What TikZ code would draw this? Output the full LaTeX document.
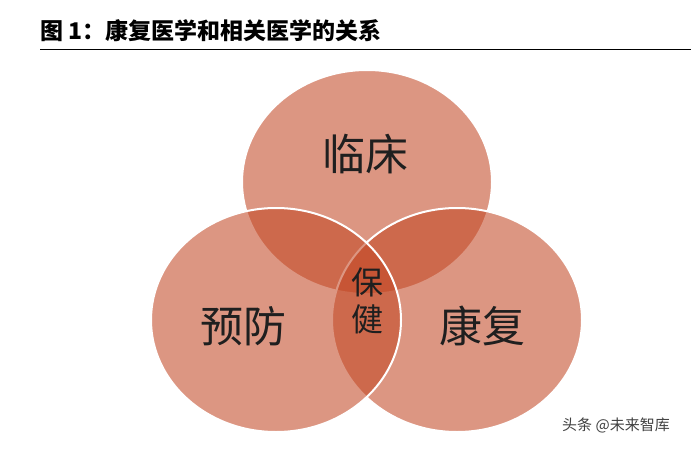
\documentclass[tikz,border=0pt]{standalone}
\usepackage{fontspec}
\newfontfamily\cjk{Noto Sans CJK SC}
\usepackage{tikz}
\usetikzlibrary{shapes,positioning,calc}
\definecolor{venn}{RGB}{194,71,36}
\tikzstyle{ring} = [fill=venn, fill opacity=0.57, draw=white, line width=2pt]
\tikzstyle{field} = [font=\cjk\fontsize{43}{43}\selectfont, text=black!88, inner sep=0pt]

\begin{document}
\begin{tikzpicture}[x=1pt,y=-1pt]
	\useasboundingbox (0,0) rectangle (700,449);
	% title and rule
	\node[anchor=base west, inner sep=0pt, font=\cjk\bfseries\fontsize{23}{23}\selectfont] (title) at (40,40) {图 1：康复医学和相关医学的关系};
	\draw[line width=1.8pt] (40,49.5) -- (691,49.5);
	
	% the three fields, drawn top, right, left
	\draw[ring] (367,182) ellipse [x radius=125, y radius=112];
	\draw[ring] (457,320) ellipse [x radius=125, y radius=112];
	\draw[ring] (276,320) ellipse [x radius=125, y radius=112];
	
	\node[field] (clinic) at (365,154) {临床};
	\node[field] (prevent) at (243,326) {预防};
	\node[field] (rehab) at (482,326) {康复};
	\node[field, align=center, font=\cjk\fontsize{32}{37}\selectfont] (care) at (367,301) {保\\健};
	
	\node[anchor=west, inner sep=0pt, text=black!75, font=\cjk\fontsize{15}{15}\selectfont] (mark) at (562,425) {头条 @未来智库};
\end{tikzpicture}
\end{document}
